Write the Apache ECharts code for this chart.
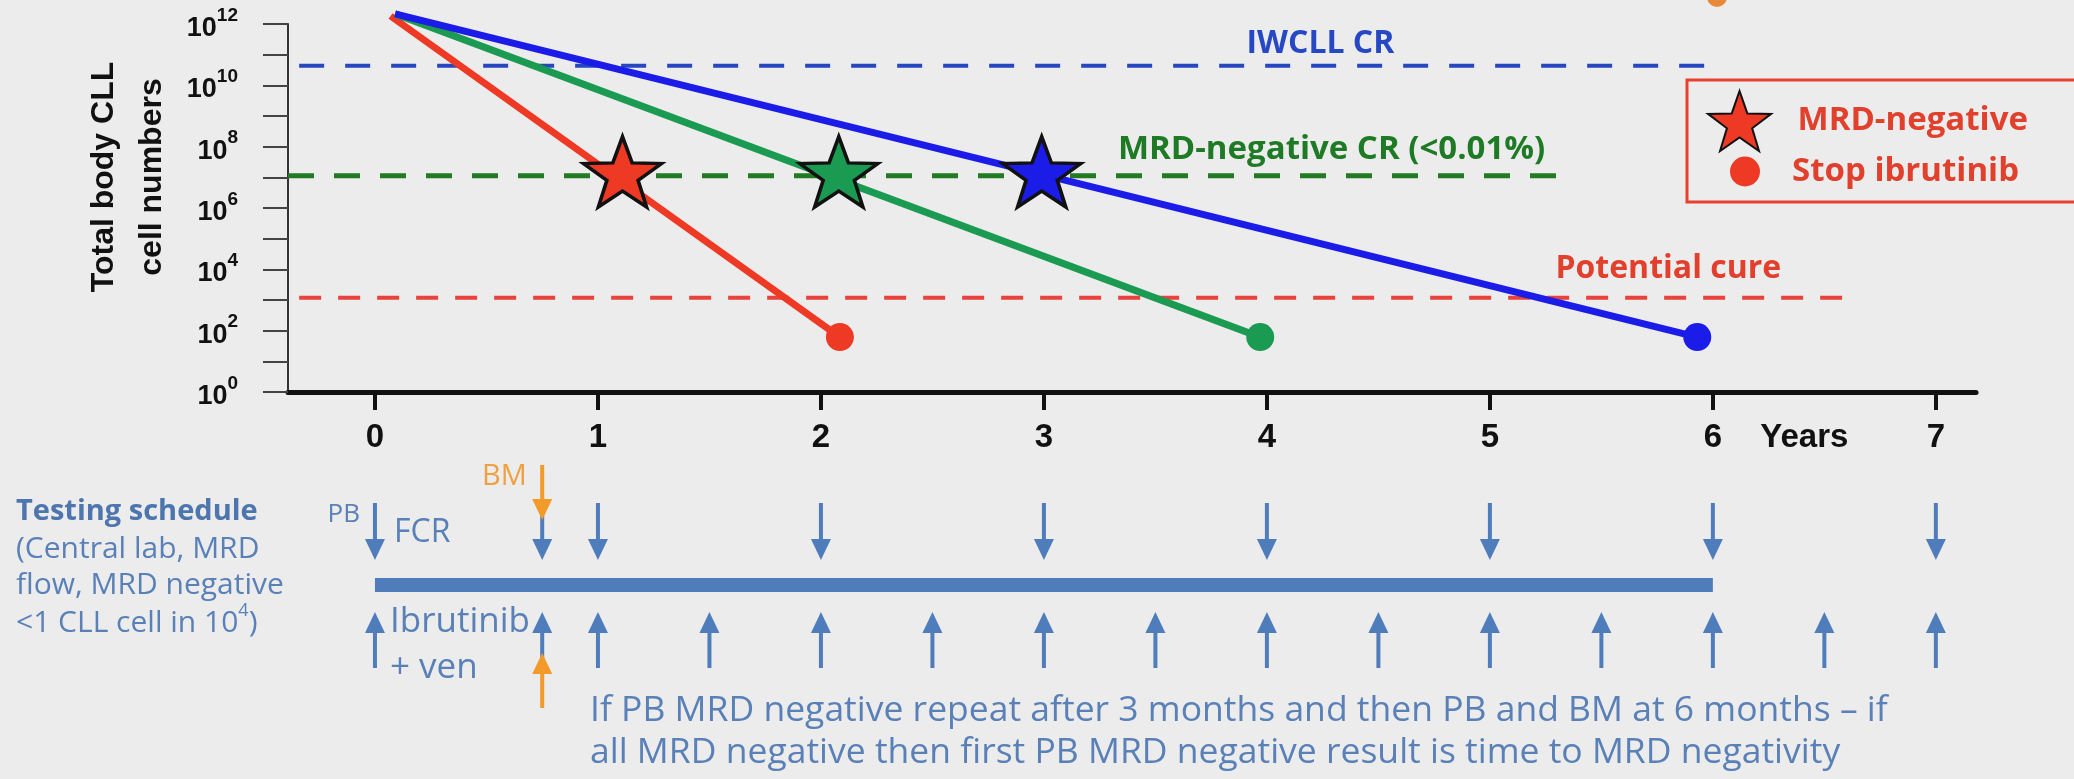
<!DOCTYPE html>
<html><head><meta charset="utf-8">
<script src="https://cdn.jsdelivr.net/npm/echarts@6/dist/echarts.min.js"></script>
<style>html,body{margin:0;padding:0;background:#ececec}#c{width:2074px;height:779px}</style>
</head><body><div id="c"></div>
<script>
// ---------- DATA (x: years, y: log10 of total body CLL cell numbers) ----------
const yearTicks = [0, 1, 2, 3, 4, 5, 6, 7];
const yearsLabelAt = 6.41;
const redLine = [[0.07, 12.26], [2.085, 1.79]];
const greenLine = [[0.09, 12.33], [3.97, 1.79]];
const blueLine = [[0.09, 12.33], [5.93, 1.79]];
const mrdNegative = [[1.11, 7.05], [2.08, 7.05], [2.99, 7.05]];      // stars: red, green, blue
const stopIbrutinib = [[2.085, 1.79], [3.97, 1.79], [5.93, 1.79]];   // dots: red, green, blue
const iwcllCR = [[-0.34, 10.64], [6.01, 10.64]];
const mrdNegCR = [[-0.39, 7.05], [5.34, 7.05]];
const potentialCure = [[-0.34, 3.07], [6.65, 3.07]];
const annotationNames = ['IWCLL CR', 'MRD-negative CR (<0.01%)', 'Potential cure'];
const annotationPos = [[4.24, 11.35], [4.29, 7.89], [5.8, 4.02]];
// testing schedule (years)
const pbTests = [0, 0.75, 1, 2, 3, 4, 5, 6, 7];
const bmDownTests = [0.75];
const ibrTests = [0, 0.75, 1, 1.5, 2, 2.5, 3, 3.5, 4, 4.5, 5, 5.5, 6, 6.5, 7];
const bmUpTests = [0.75];
const treatment = [[0, 6]];

// ---------- STYLE ----------
const armColors = ['#ee3a25', '#1b9a52', '#1c1ce8'];
const annColors = ['#2748c4', '#1f7a26', '#e23f2d'];
const annSizes = [32, 33, 32];
const schedBlue = '#4f7dbb';
const orange = '#f29a2a';
const textBlue = '#5a80b8';
const STAR = 'path://M50,0 L61.76,33.82 L97.55,34.55 L69.02,56.18 L79.39,90.45 L50,70 L20.61,90.45 L30.98,56.18 L2.45,34.55 L38.24,33.82 Z';
const X_MIN = -0.39, X_MAX = 7.18;

function lineSeries(name, data, color) {
  return { name, type: 'line', xAxisIndex: 0, yAxisIndex: 0, data, symbol: 'none', clip: false, z: 3,
    lineStyle: { color, width: 7, cap: 'butt' }, silent: true };
}
function dashSeries(name, data, color, width, dash) {
  return { name, type: 'line', xAxisIndex: 0, yAxisIndex: 0, data, symbol: 'none', clip: false, z: 2,
    lineStyle: { color, width, type: dash }, silent: true };
}
function arrowSeries(name, data, yStart, yTip, color, z) {
  return {
    name, type: 'custom', xAxisIndex: 1, yAxisIndex: 1, clip: false, z, silent: true,
    data: data.map(v => [v, 0]),
    renderItem: function (params, api) {
      const x = api.coord([api.value(0), 0])[0];
      const head = 21, hw = 10;
      const down = yTip > yStart;
      const yBase = down ? yTip - head : yTip + head;
      return { type: 'group', children: [
        { type: 'line', shape: { x1: x, y1: yStart, x2: x, y2: yBase }, style: { stroke: color, lineWidth: 4 } },
        { type: 'polygon', shape: { points: [[x - hw, yBase], [x + hw, yBase], [x, yTip]] }, style: { fill: color } }
      ] };
    }
  };
}

const chart = echarts.init(document.getElementById('c'), null, { renderer: 'canvas' });
const option = {
  backgroundColor: '#ececec',
  animation: false,
  grid: [
    { left: 288, top: 24, width: 1688, height: 368 },
    { left: 288, top: 450, width: 1688, height: 300 }
  ],
  xAxis: [
    { gridIndex: 0, type: 'value', min: X_MIN, max: X_MAX,
      axisLine: { show: true, onZero: false, lineStyle: { color: '#111', width: 5 } },
      axisTick: { show: true, customValues: yearTicks, length: 18, lineStyle: { color: '#111', width: 4 } },
      axisLabel: { show: true, customValues: yearTicks.concat([yearsLabelAt]), margin: 29,
        formatter: v => (Math.abs(v - yearsLabelAt) < 0.001 ? 'Years' : String(v)),
        fontSize: 33, fontWeight: 'bold', fontFamily: 'Liberation Sans', color: '#111' },
      splitLine: { show: false } },
    { gridIndex: 1, type: 'value', min: X_MIN, max: X_MAX, show: false }
  ],
  yAxis: [
    { gridIndex: 0, type: 'value', min: 0, max: 12, interval: 1,
      name: 'Total body CLL\ncell numbers', nameLocation: 'middle', nameRotate: 90, nameGap: 111,
      nameTextStyle: { fontSize: 32, fontWeight: 'bold', fontFamily: 'Liberation Sans', color: '#111', lineHeight: 48, padding: [0, 0, 0, 62] },
      axisLine: { show: true, onZero: false, lineStyle: { color: '#333', width: 2 } },
      axisTick: { show: true, length: 25, lineStyle: { color: '#444', width: 2 } },
      axisLabel: { margin: 50, formatter: v => (v % 2 ? '' : '{b|10}{s|' + v + '}'),
        rich: {
          b: { fontSize: 27, fontWeight: 'bold', fontFamily: 'Liberation Sans', color: '#111', lineHeight: 36, verticalAlign: 'bottom' },
          s: { fontSize: 19, fontWeight: 'bold', fontFamily: 'Liberation Sans', color: '#111', lineHeight: 19, verticalAlign: 'top' }
        } },
      splitLine: { show: false } },
    { gridIndex: 1, type: 'value', min: 0, max: 1, show: false }
  ],
  legend: [
    { data: [{ name: 'MRD-negative', icon: STAR }], left: 1687, top: 80, orient: 'vertical',
      itemWidth: 70, itemHeight: 60, padding: [10, 50, 50, 20], borderColor: '#e8402c', borderWidth: 3,
      selectedMode: false,
      textStyle: { color: '#e0402c', fontSize: 33, fontWeight: 'bold', fontFamily: 'Open Sans', padding: [0, 0, 0, 18] } },
    { data: [{ name: 'Stop ibrutinib', icon: 'circle' }], left: 1730, top: 155, orient: 'vertical',
      itemWidth: 30, itemHeight: 30, padding: 0, selectedMode: false,
      textStyle: { color: '#e0402c', fontSize: 33, fontWeight: 'bold', fontFamily: 'Open Sans', padding: [0, 0, 0, 27] } }
  ],
  series: [
    dashSeries('IWCLL CR line', iwcllCR, '#2747c0', 4, [25, 21]),
    dashSeries('MRD-negative CR line', mrdNegCR, '#227a22', 5, [26, 20]),
    dashSeries('Potential cure line', potentialCure, '#e8423a', 4, [22, 17]),
    lineSeries('Fast', redLine, armColors[0]),
    lineSeries('Medium', greenLine, armColors[1]),
    lineSeries('Slow', blueLine, armColors[2]),
    { name: 'Stop ibrutinib', type: 'scatter', xAxisIndex: 0, yAxisIndex: 0, clip: false, z: 9, silent: true,
      symbol: 'circle', symbolSize: 28, itemStyle: { color: '#ee3a25', opacity: 1 },
      data: stopIbrutinib.map((d, i) => ({ value: d, itemStyle: { color: armColors[i], opacity: 1 } })) },
    { name: 'MRD-negative', type: 'scatter', xAxisIndex: 0, yAxisIndex: 0, clip: false, z: 10, silent: true,
      symbol: STAR, symbolSize: [78, 74], symbolOffset: [0, -4], symbolKeepAspect: true,
      itemStyle: { color: '#ee3a25', borderColor: '#111', borderWidth: 3.5, opacity: 1 },
      data: mrdNegative.map((d, i) => ({ value: d, itemStyle: { color: armColors[i], opacity: 1 } })) },
    { name: 'annotations', type: 'scatter', xAxisIndex: 0, yAxisIndex: 0, clip: false, z: 11, silent: true,
      symbolSize: 1, itemStyle: { color: 'rgba(0,0,0,0)', opacity: 1 },
      data: annotationPos.map((d, i) => ({ name: annotationNames[i], value: d,
        label: { show: true, position: 'inside', formatter: '{b}', color: annColors[i], fontSize: annSizes[i], fontWeight: 'bold', fontFamily: 'Open Sans' } })) },
    { name: 'treatment', type: 'custom', xAxisIndex: 1, yAxisIndex: 1, clip: false, z: 2, silent: true,
      data: treatment,
      renderItem: function (params, api) {
        const x0 = api.coord([api.value(0), 0])[0];
        const x1 = api.coord([api.value(1), 0])[0];
        return { type: 'rect', shape: { x: x0, y: 578, width: x1 - x0, height: 14 }, style: { fill: schedBlue } };
      } },
    arrowSeries('PB tests', pbTests, 503, 560, schedBlue, 3),
    arrowSeries('Ibrutinib + ven tests', ibrTests, 668, 612, schedBlue, 3),
    arrowSeries('BM test (FCR)', bmDownTests, 465, 520, orange, 4),
    arrowSeries('BM test (Ibr+ven)', bmUpTests, 708, 653, orange, 4)
  ],
  graphic: [
    { type: 'circle', shape: { cx: 1717, cy: -3, r: 10 }, style: { fill: '#e8893a' }, silent: true },
    { type: 'text', x: 16, y: 512, style: { text: 'Testing schedule', fill: '#4d75ae', font: 'bold 29px "Open Sans"', verticalAlign: 'middle' } },
    { type: 'text', x: 16, y: 549, style: { text: '(Central lab, MRD', fill: textBlue, font: '30px "Open Sans"', verticalAlign: 'middle' } },
    { type: 'text', x: 16, y: 585, style: { text: 'flow, MRD negative', fill: textBlue, font: '30px "Open Sans"', verticalAlign: 'middle' } },
    { type: 'text', x: 16, y: 620, style: { text: '{a|<1 CLL cell in 10}{s|4}{a|)}', verticalAlign: 'middle',
      rich: { a: { fill: textBlue, fontSize: 30, fontFamily: 'Open Sans', lineHeight: 36, verticalAlign: 'bottom' },
              s: { fill: textBlue, fontSize: 18, fontFamily: 'Open Sans', lineHeight: 18, verticalAlign: 'top' } } } },
    { type: 'text', x: 360, y: 515, style: { text: 'PB', fill: textBlue, font: '26px "Open Sans"', align: 'right', verticalAlign: 'middle' } },
    { type: 'text', x: 394, y: 533, style: { text: 'FCR', fill: textBlue, font: '32px "Open Sans"', verticalAlign: 'middle' } },
    { type: 'text', x: 482, y: 477, style: { text: 'BM', fill: '#f0a040', font: '29px "Open Sans"', verticalAlign: 'middle' } },
    { type: 'text', x: 390, y: 622, style: { text: 'Ibrutinib', fill: textBlue, font: '35px "Open Sans"', verticalAlign: 'middle' } },
    { type: 'text', x: 390, y: 668, style: { text: '+ ven', fill: textBlue, font: '35px "Open Sans"', verticalAlign: 'middle' } },
    { type: 'text', x: 590, y: 711, style: { text: 'If PB MRD negative repeat after 3 months and then PB and BM at 6 months \u2013 if', fill: textBlue, font: '35.5px "Open Sans"', verticalAlign: 'middle' } },
    { type: 'text', x: 590, y: 753, style: { text: 'all MRD negative then first PB MRD negative result is time to MRD negativity', fill: textBlue, font: '35.5px "Open Sans"', verticalAlign: 'middle' } }
  ]
};
chart.setOption(option);
</script>
</body></html>
